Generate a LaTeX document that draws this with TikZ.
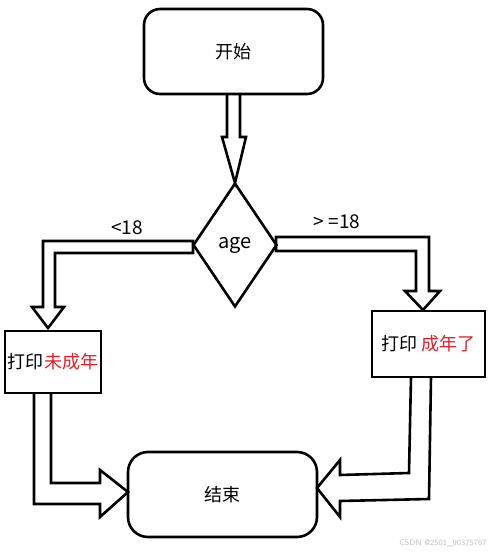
\documentclass[tikz,border=0pt]{standalone}
\usepackage{fontspec}
\setmainfont{Noto Sans CJK SC}
\usetikzlibrary{shapes.geometric}
\definecolor{redtxt}{RGB}{230,30,40}
\tikzset{
  ln/.style={draw=black,line width=2.6pt,line join=miter},
  rbox/.style={ln,rounded corners=16pt,inner sep=0pt,font=\fontsize{18}{21}\selectfont},
  pbox/.style={ln,inner sep=0pt,font=\fontsize{18}{21}\selectfont},
  hollow/.style={ln,line join=miter},
  lbl/.style={font=\fontsize{19}{22}\selectfont}
}
\begin{document}
\begin{tikzpicture}[x=1pt,y=-1pt]
\useasboundingbox[fill=white] (0,0) rectangle (500,552);
% nodes
\node[rbox,minimum width=179pt,minimum height=85pt] (start) at (233.5,51.5) {开始};
\node[ln,shape=diamond,aspect=0.68,minimum width=84pt,minimum height=124pt,inner sep=0pt,font=\fontsize{20}{23}\selectfont] (age) at (235,245) {age};
\node[pbox,minimum width=96pt,minimum height=62pt] (young) at (53,362) {打印\textcolor{redtxt}{未成年}};
\node[pbox,minimum width=113pt,minimum height=66pt] (adult) at (428.5,344) {打印 \textcolor{redtxt}{成年了}};
\node[rbox,rounded corners=20pt,minimum width=189pt,minimum height=85pt] (end) at (222.5,494.5) {结束};
% hollow arrows
\draw[hollow] (227,94) -- (227,137) -- (222,137) -- (235,183) -- (246,137) -- (240,137) -- (240,94);
\draw[hollow] (193,253) -- (55,253) -- (55,307) -- (64,307) -- (48,328) -- (32,307) -- (43,307) -- (43,241) -- (193,241) -- cycle;
\draw[hollow] (276,237) -- (429,237) -- (429,291) -- (440,291) -- (423,310) -- (405,291) -- (416,291) -- (416,251) -- (276,251) -- cycle;
\draw[hollow] (34,393) -- (34,504) -- (100,504) -- (100,517) -- (128,492) -- (100,470) -- (100,483) -- (51,483) -- (51,393);
\draw[hollow] (431,377) -- (429,499) -- (340,501) -- (340,517) -- (317,488) -- (340,460) -- (340,475) -- (409,473) -- (411,377);
% labels
\node[lbl] (l1) at (127,228) {<18};
\node[lbl] (l2) at (337,222) {> =18};
\node[font=\sffamily\fontsize{8}{10}\selectfont,text=black!25] (wm) at (443,543) {CSDN @2501\_90375767};
\end{tikzpicture}
\end{document}
